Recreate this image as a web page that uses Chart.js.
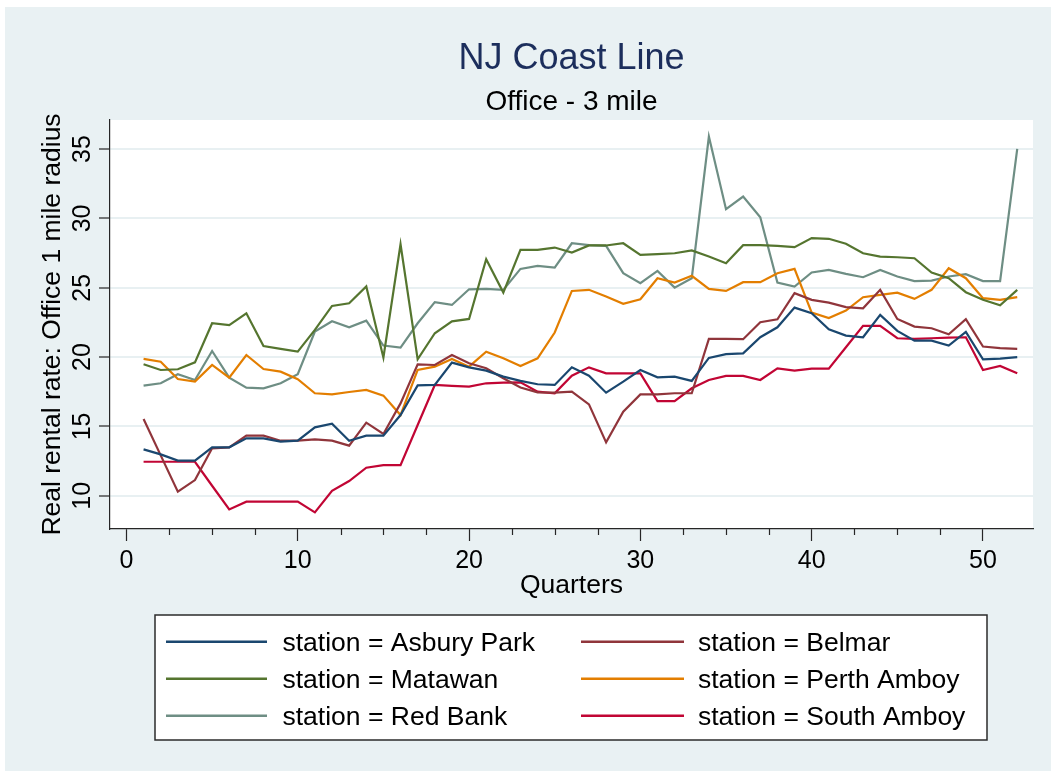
<!DOCTYPE html>
<html>
<head>
<meta charset="utf-8">
<title>NJ Coast Line</title>
<script src="https://cdn.jsdelivr.net/npm/chart.js@4.4.1/dist/chart.umd.min.js"></script>
<style>
  html, body { margin: 0; padding: 0; background: #ffffff; }
  canvas { display: block; }
</style>
</head>
<body>
<canvas id="chart" width="1051" height="771"></canvas>
<script>
// ---- data -------------------------------------------------------------
const quarters = [1,2,3,4,5,6,7,8,9,10,11,12,13,14,15,16,17,18,19,20,21,22,23,24,25,26,
                  27,28,29,30,31,32,33,34,35,36,37,38,39,40,41,42,43,44,45,46,47,48,49,50,51,52];

const asburyPark = [13.34,12.98,12.53,12.53,13.49,13.49,14.14,14.14,13.90,13.97,14.93,15.20,13.97,
                    14.33,14.33,15.82,17.96,17.99,19.60,19.26,19.02,18.59,18.28,18.04,17.99,19.26,
                    18.66,17.43,18.23,19.07,18.54,18.59,18.28,19.94,20.21,20.27,21.43,22.15,23.57,
                    23.16,22.01,21.55,21.43,23.04,21.89,21.19,21.19,20.83,21.82,19.84,19.89,19.99];

const belmar = [15.53,12.91,10.29,11.13,13.42,13.49,14.33,14.33,13.97,13.97,14.07,13.97,13.61,
                15.27,14.45,16.66,19.48,19.43,20.15,19.55,19.19,18.47,17.80,17.46,17.43,17.51,
                16.59,13.85,16.06,17.31,17.31,17.39,17.39,21.31,21.31,21.29,22.51,22.73,24.61,
                24.13,23.93,23.60,23.52,24.85,22.75,22.20,22.08,21.65,22.73,20.76,20.64,20.59];

const matawan = [19.48,19.07,19.12,19.62,22.44,22.30,23.16,20.80,20.59,20.39,21.96,23.69,23.88,
                 25.09,19.96,28.14,19.84,21.72,22.58,22.75,27.06,24.65,27.73,27.73,27.90,27.54,
                 28.05,28.05,28.21,27.37,27.42,27.49,27.69,27.25,26.77,28.07,28.07,28.02,27.93,
                 28.58,28.53,28.17,27.49,27.25,27.20,27.13,26.10,25.69,24.68,24.13,23.74,24.85];

const perthAmboy = [19.87,19.67,18.42,18.23,19.43,18.52,20.15,19.14,18.95,18.40,17.39,17.31,17.48,
                    17.63,17.22,15.82,19.07,19.31,19.87,19.31,20.39,19.91,19.36,19.91,21.77,24.77,
                    24.85,24.37,23.84,24.17,25.69,25.38,25.86,24.92,24.77,25.40,25.40,26.05,26.36,
                    23.21,22.82,23.35,24.32,24.49,24.65,24.20,24.85,26.41,25.69,24.25,24.13,24.32];

const redBank = [17.94,18.11,18.76,18.35,20.44,18.52,17.80,17.75,18.11,18.76,21.84,22.58,22.15,
                 22.63,20.83,20.68,22.44,23.96,23.76,24.89,24.92,24.85,26.36,26.58,26.46,28.21,
                 28.07,28.02,26.05,25.33,26.22,25.01,25.69,35.91,30.67,31.58,30.09,25.38,25.09,
                 26.10,26.29,26.00,25.76,26.29,25.81,25.48,25.52,25.81,25.98,25.48,25.48,35.02];

const southAmboy = [12.45,12.45,12.45,12.45,10.72,9.01,9.57,9.57,9.57,9.57,8.80,10.36,11.06,
                    12.02,12.21,12.21,15.10,17.99,17.92,17.87,18.11,18.16,18.18,17.51,17.39,18.66,
                    19.26,18.83,18.83,18.83,16.83,16.83,17.75,18.35,18.64,18.64,18.35,19.19,19.02,
                    19.17,19.17,20.71,22.25,22.25,21.36,21.31,21.36,21.41,21.43,19.07,19.36,18.83];

const stationNames = ['Asbury Park', 'Belmar', 'Matawan', 'Perth Amboy', 'Red Bank', 'South Amboy'];
const stationSeries = [asburyPark, belmar, matawan, perthAmboy, redBank, southAmboy];

const xTicks = [0, 10, 20, 30, 40, 50];
const xMinorTicks = [2.5, 5, 7.5, 12.5, 15, 17.5, 22.5, 25, 27.5, 32.5, 35, 37.5, 42.5, 45, 47.5];
const yTicks = [10, 15, 20, 25, 30, 35];

const chartTitle = 'NJ Coast Line';
const chartSubtitle = 'Office - 3 mile';
const xAxisTitle = 'Quarters';
const yAxisTitle = 'Real rental rate: Office 1 mile radius';

// ---- styling ----------------------------------------------------------
const lineColors = ['#1a476f', '#90353b', '#55752f', '#e37e00', '#6e8e84', '#c10534'];
const FONT = '"Liberation Sans", Arial, Helvetica, sans-serif';
const PAGE_BG = '#e9f1f3';
const AXIS_COLOR = '#262626';

// ---- plugins ----------------------------------------------------------
// Page background (white outer edge, bluish-gray graph region, white plot region)
const backgroundPlugin = {
  id: 'graphBackground',
  beforeDraw(chart) {
    const { ctx, width, height, chartArea } = chart;
    ctx.save();
    ctx.fillStyle = '#ffffff';
    ctx.fillRect(0, 0, width, height);
    ctx.fillStyle = PAGE_BG;
    ctx.fillRect(5, 7, width - 5, height - 7);
    ctx.fillStyle = '#ffffff';
    ctx.fillRect(chartArea.left, chartArea.top, chartArea.right - chartArea.left, chartArea.bottom - chartArea.top);
    ctx.restore();
  }
};

// Title and subtitle centred over the plot region
const titlePlugin = {
  id: 'plotTitles',
  afterDraw(chart) {
    const { ctx, chartArea } = chart;
    const cx = (chartArea.left + chartArea.right) / 2;
    ctx.save();
    ctx.textAlign = 'center';
    ctx.textBaseline = 'alphabetic';
    ctx.fillStyle = '#1c2e5c';
    ctx.font = '36px ' + FONT;
    ctx.fillText(chartTitle, cx, 69);
    ctx.fillStyle = '#000000';
    ctx.font = '28px ' + FONT;
    ctx.fillText(chartSubtitle, cx, 110);
    ctx.restore();
  }
};

// Vertical y tick labels and minor x ticks
const axisExtrasPlugin = {
  id: 'axisExtras',
  afterDraw(chart) {
    const { ctx } = chart;
    const ys = chart.scales.y;
    const xs = chart.scales.x;
    ctx.save();
    ctx.fillStyle = '#000000';
    ctx.font = '25px ' + FONT;
    ctx.textAlign = 'center';
    ctx.textBaseline = 'alphabetic';
    ys.ticks.forEach(t => {
      const py = ys.getPixelForValue(t.value);
      ctx.save();
      ctx.translate(90, py);
      ctx.rotate(-Math.PI / 2);
      ctx.fillText(String(t.label), 0, 0);
      ctx.restore();
    });
    ctx.strokeStyle = AXIS_COLOR;
    ctx.lineWidth = 1.2;
    const top = chart.chartArea.bottom;
    xMinorTicks.forEach(v => {
      const px = Math.round(xs.getPixelForValue(v)) + 0.5;
      ctx.beginPath();
      ctx.moveTo(px, top);
      ctx.lineTo(px, top + 6);
      ctx.stroke();
    });
    ctx.restore();
  }
};

// Two-column boxed legend under the plot
const legendBoxPlugin = {
  id: 'legendBox',
  afterDraw(chart) {
    const { ctx } = chart;
    const box = { left: 155, top: 615, right: 987, bottom: 740 };
    ctx.save();
    ctx.fillStyle = '#ffffff';
    ctx.fillRect(box.left, box.top, box.right - box.left, box.bottom - box.top);
    ctx.strokeStyle = '#2b2b2b';
    ctx.lineWidth = 1.5;
    ctx.strokeRect(box.left, box.top, box.right - box.left, box.bottom - box.top);
    const cols = [{ x0: 166, x1: 267, tx: 282.5 }, { x0: 581, x1: 684, tx: 698 }];
    const baselines = [651.3, 688.3, 725.3];
    ctx.font = '26.5px ' + FONT;
    ctx.textAlign = 'left';
    ctx.textBaseline = 'alphabetic';
    chart.data.datasets.forEach((ds, i) => {
      const col = cols[i % 2];
      const base = baselines[Math.floor(i / 2)];
      const ly = base - 9.5;
      ctx.strokeStyle = ds.borderColor;
      ctx.lineWidth = 2.4;
      ctx.beginPath();
      ctx.moveTo(col.x0, ly);
      ctx.lineTo(col.x1, ly);
      ctx.stroke();
      ctx.fillStyle = '#000000';
      ctx.fillText(ds.label, col.tx, base);
    });
    ctx.restore();
  }
};

// ---- chart ------------------------------------------------------------
const datasets = stationSeries.map((series, i) => ({
  label: 'station = ' + stationNames[i],
  data: quarters.map((q, j) => ({ x: q, y: series[j] })),
  borderColor: lineColors[i],
  backgroundColor: lineColors[i],
  borderWidth: 2.2,
  pointRadius: 0,
  tension: 0,
  fill: false
}));

new Chart(document.getElementById('chart'), {
  type: 'line',
  data: { datasets },
  options: {
    responsive: false,
    animation: false,
    devicePixelRatio: 1,
    layout: { padding: { left: 0, top: 120, right: 18, bottom: 169 } },
    plugins: {
      legend: { display: false },
      title: { display: false },
      tooltip: { enabled: false }
    },
    scales: {
      x: {
        type: 'linear',
        min: -0.96,
        max: 52.92,
        afterBuildTicks(scale) { scale.ticks = xTicks.map(v => ({ value: v })); },
        afterFit(scale) { scale.height = 73; },
        ticks: {
          color: '#000000',
          font: { family: FONT, size: 25 },
          padding: 5,
          maxRotation: 0,
          minRotation: 0,
          autoSkip: false
        },
        grid: {
          drawOnChartArea: false,
          drawTicks: true,
          tickLength: 12,
          tickColor: AXIS_COLOR,
          tickWidth: 1.2
        },
        border: { display: true, color: AXIS_COLOR, width: 1.2 },
        title: {
          display: true,
          text: xAxisTitle,
          color: '#000000',
          font: { family: FONT, size: 26.5 },
          padding: 0
        }
      },
      y: {
        type: 'linear',
        min: 7.6,
        max: 37.1,
        afterBuildTicks(scale) { scale.ticks = yTicks.map(v => ({ value: v })); },
        afterFit(scale) { scale.width = 110; },
        ticks: { display: false },
        grid: {
          drawOnChartArea: true,
          color: '#e8f0f2',
          lineWidth: 2,
          drawTicks: true,
          tickLength: 11,
          tickColor: AXIS_COLOR,
          tickWidth: 1.2
        },
        border: { display: true, color: AXIS_COLOR, width: 1.2 },
        title: {
          display: true,
          text: yAxisTitle,
          color: '#000000',
          font: { family: FONT, size: 26.5 },
          padding: { top: 37, bottom: 0 }
        }
      }
    }
  },
  plugins: [backgroundPlugin, titlePlugin, axisExtrasPlugin, legendBoxPlugin]
});
</script>
</body>
</html>
